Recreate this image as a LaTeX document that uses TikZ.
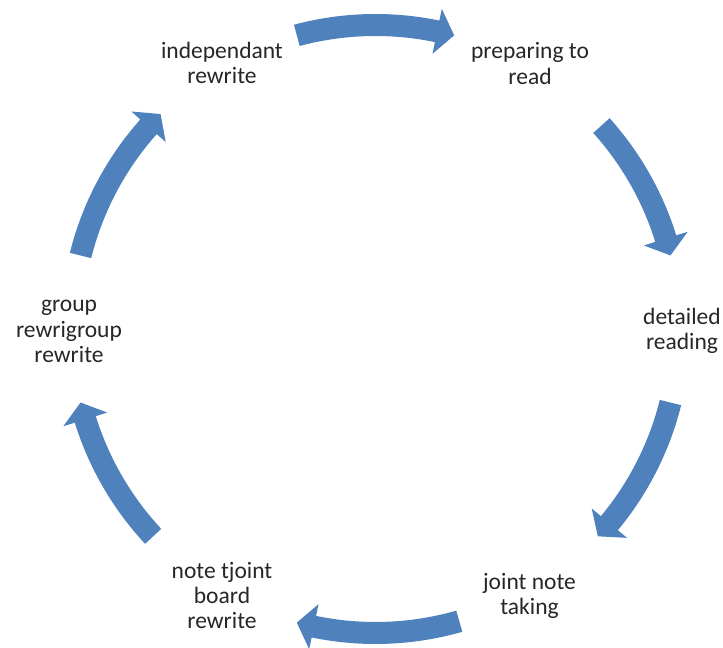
\documentclass[tikz,border=0pt]{standalone}
\usepackage{fontspec}
\setmainfont{Carlito}
\definecolor{cycleblue}{RGB}{79,129,189}
\definecolor{labelgray}{RGB}{38,38,38}
\tikzset{
  steplabel/.style={align=center, anchor=base, inner sep=0pt,
    font=\fontsize{23.5}{25.5}\selectfont, text=labelgray},
  cyclefill/.style={fill=cycleblue, draw=none}
}
% Curved block arrow on the cycle circle: #1 = tail angle, #2 = tip angle (clockwise)
\newcommand\cyclearrow[2]{%
  \pgfmathsetmacro\headbase{#2+3.3}%
  \fill[cyclefill] (#1:315) arc[start angle=#1, end angle=\headbase, radius=315]
    -- (\headbase:327) -- (#2:304) -- (\headbase:281) -- (\headbase:293)
    arc[start angle=\headbase, end angle=#1, radius=293] -- cycle;
}
\begin{document}
\begin{tikzpicture}[x=1pt, y=1pt]
  \useasboundingbox (0,0) rectangle (723,648);

  % step labels (anchored at the baseline of their last line)
  \node[steplabel] (indep)   at (222,564)   {independant\\rewrite};
  \node[steplabel] (prep)    at (530,563.5) {preparing to\\read};
  \node[steplabel] (detail)  at (682,298)   {detailed\\reading};
  \node[steplabel] (joint)   at (529.5,33)  {joint note\\taking};
  \node[steplabel] (board)   at (222,19)    {note tjoint\\board\\rewrite};
  \node[steplabel] (group)   at (69,285)    {group\\rewrigroup\\rewrite};

  % arrows around the cycle
  \begin{scope}[shift={(375.5,319)}]
    \cyclearrow{105}{75}
    \cyclearrow{42}{14}
    \cyclearrow{-14}{-43}
    \cyclearrow{-74}{-105}
    \cyclearrow{223}{194}
    \cyclearrow{166}{135}
  \end{scope}
\end{tikzpicture}
\end{document}
